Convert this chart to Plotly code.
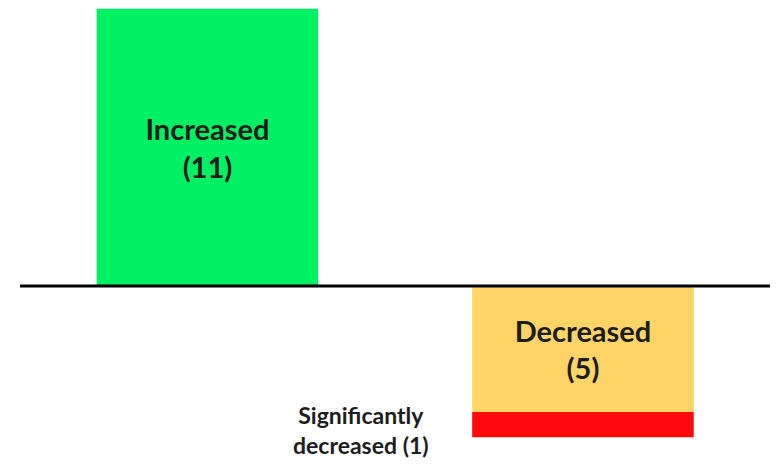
import plotly.graph_objects as go

categories = ["Increased", "Decreased", "Significantly decreased"]
counts = [11, 5, 1]
positions = [0, 1, 1]
colors = ["#00F064", "#FFD466", "#FF0A0A"]

fig = go.Figure()

# increased goes up, the two decrease groups stack downward
fig.add_trace(go.Bar(
    x=[positions[0]], y=[counts[0]],
    marker=dict(color=colors[0], line=dict(width=0)),
    text=[f"{categories[0]}<br>({counts[0]})"],
    textposition="inside", insidetextanchor="middle", constraintext="none",
    textfont=dict(family="Lato", size=29, color="#1c1c1c", weight="bold"),
    width=0.59,
))
fig.add_trace(go.Bar(
    x=[positions[1]], y=[-counts[1]],
    marker=dict(color=colors[1], line=dict(width=0)),
    text=[f"{categories[1]}<br>({counts[1]})"],
    textposition="inside", insidetextanchor="middle", constraintext="none",
    textfont=dict(family="Lato", size=29, color="#1c1c1c", weight="bold"),
    width=0.59,
))
fig.add_trace(go.Bar(
    x=[positions[2]], y=[-counts[2]],
    marker=dict(color=colors[2], line=dict(width=0)),
    text=[""], textposition="none",
    width=0.59,
))

fig.add_annotation(
    x=0.41, y=-(counts[1] + counts[2] * 0.7),
    text="Significantly<br>decreased (1)",
    showarrow=False, xanchor="center", yanchor="middle",
    font=dict(family="Lato", size=23, color="#1c1c1c", weight="bold"),
)

# baseline
fig.add_shape(type="line", xref="paper", yref="y",
              x0=12 / 781, x1=762 / 781, y0=0, y1=0,
              line=dict(color="black", width=3))

fig.update_layout(
    width=781, height=465,
    margin=dict(l=0, r=0, t=0, b=0),
    barmode="relative",
    showlegend=False,
    plot_bgcolor="white", paper_bgcolor="white",
    xaxis=dict(range=[-0.531, 1.5486], visible=False),
    yaxis=dict(range=[-7.42, 11.03], visible=False),
)

fig.write_html("out.html")
